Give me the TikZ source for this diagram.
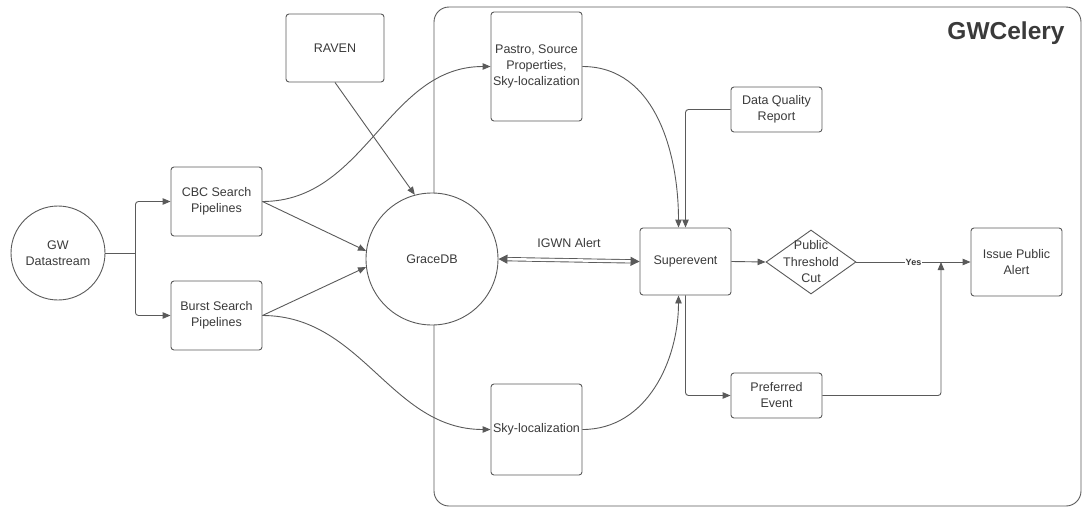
\documentclass[tikz,border=0pt]{standalone}
\usepackage{fontspec}
\setsansfont{Liberation Sans}
\usepackage{tikz}
\usetikzlibrary{arrows.meta, positioning, shapes.geometric}
\definecolor{lucidline}{HTML}{5A5A5A}
\definecolor{lucidtext}{HTML}{3A3A3A}

\tikzset{
  flowbox/.style={draw=lucidline, line width=0.9pt, rounded corners=3pt, fill=white,
    inner sep=0pt, align=center, text=lucidtext,
    font=\fontsize{12.5}{16}\selectfont\sffamily},
  flowcirc/.style={flowbox, circle, rounded corners=0pt},
  flowdiam/.style={draw=lucidline, line width=0.9pt, diamond, fill=white, inner sep=0pt,
    minimum width=90pt, minimum height=64pt},
  link/.style={draw=lucidline, line width=0.9pt,
    -{Triangle[length=8pt, width=6.5pt]}},
}

\begin{document}
\begin{tikzpicture}[x=1pt, y=-1pt, font=\sffamily]
  \useasboundingbox (0,0) rectangle (1088,509);
  % GWCelery container
  \draw[lucidline, line width=0.9pt, rounded corners=15pt] (434,7) rectangle (1081,506);
  \node[font=\fontsize{24.5}{28}\selectfont\sffamily\bfseries, text=lucidtext] (title) at (1006,33) {GWCelery};

  % sources
  \node[flowcirc, minimum size=94pt] (gw) at (58,253) {GW\\Datastream};
  \node[flowbox, minimum width=91pt, minimum height=69pt] (cbc) at (216.5,201.5) {CBC Search\\Pipelines};
  \node[flowbox, minimum width=91pt, minimum height=69pt] (burst) at (216.5,315.5) {Burst Search\\Pipelines};
  \node[flowbox, minimum width=98pt, minimum height=68pt] (raven) at (335,48) {RAVEN};
  \node[flowcirc, minimum size=132pt] (grace) at (432,259) {GraceDB};

  % inside GWCelery
  \node[flowbox, minimum width=91pt, minimum height=109pt] (pastro) at (536.5,66.5) {Pastro, Source\\Properties,\\Sky-localization};
  \node[flowbox, minimum width=91pt, minimum height=91pt] (sky) at (536.5,429.5) {Sky-localization};
  \node[flowbox, minimum width=91pt, minimum height=45pt] (dqr) at (776.5,109.5) {Data Quality\\Report};
  \node[flowbox, minimum width=91pt, minimum height=67pt] (sup) at (685.5,261.5) {Superevent};
  \node[flowdiam, label={[text=lucidtext, align=center, font=\fontsize{12.5}{16.5}\selectfont\sffamily]center:Public\\Threshold\\Cut}] (cut) at (811,262) {};
  \node[flowbox, minimum width=91pt, minimum height=68pt] (issue) at (1016.5,262) {Issue Public\\Alert};
  \node[flowbox, minimum width=91pt, minimum height=45pt] (pref) at (776.5,395.5) {Preferred\\Event};

  % datastream split
  \draw[lucidline, line width=0.9pt] (gw.east) -- ++(30,0) coordinate (split);
  \draw[link, rounded corners=3pt] (split) |- (cbc.west);
  \draw[link, rounded corners=3pt] (split) |- (burst.west);

  % pipelines to GraceDB and localization
  \draw[link] (cbc.east) -- (grace.173);
  \draw[link] (burst.east) -- (grace.187);
  \draw[link] (raven.south) -- (grace.105);
  \draw[link] (cbc.east) to[out=0, in=180] (pastro.west);
  \draw[link] (burst.east) to[out=0, in=180] (sky.west);

  % GraceDB <-> Superevent
  \draw[lucidline, line width=0.9pt, double, double distance=2.5pt,
    {Triangle[length=9pt, width=9pt]}-{Triangle[length=9pt, width=9pt]}]
    (grace.east) -- node[above=9pt, text=lucidtext, font=\fontsize{12.5}{16}\selectfont\sffamily] (igwn) {IGWN Alert} (sup.west);

  % into Superevent
  \draw[link] (pastro.east) to[out=0, in=90] ([xshift=-7pt]sup.north);
  \draw[link] (sky.east) to[out=0, in=-90] ([xshift=-7pt]sup.south);
  \draw[link, rounded corners=3pt] (dqr.west) -| (sup.north);

  % out of Superevent
  \draw[link, rounded corners=3pt] (sup.south) |- (pref.west);
  \draw[link] (sup.east) -- (cut.west);
  \draw[link] (cut.east) -- node[fill=white, inner sep=1pt, text=lucidtext,
    font=\fontsize{9}{10}\selectfont\sffamily\bfseries] (yes) {Yes} (issue.west);
  \coordinate (join) at (941,262);
  \draw[link, rounded corners=3pt] (pref.east) -| (join);
\end{tikzpicture}
\end{document}
